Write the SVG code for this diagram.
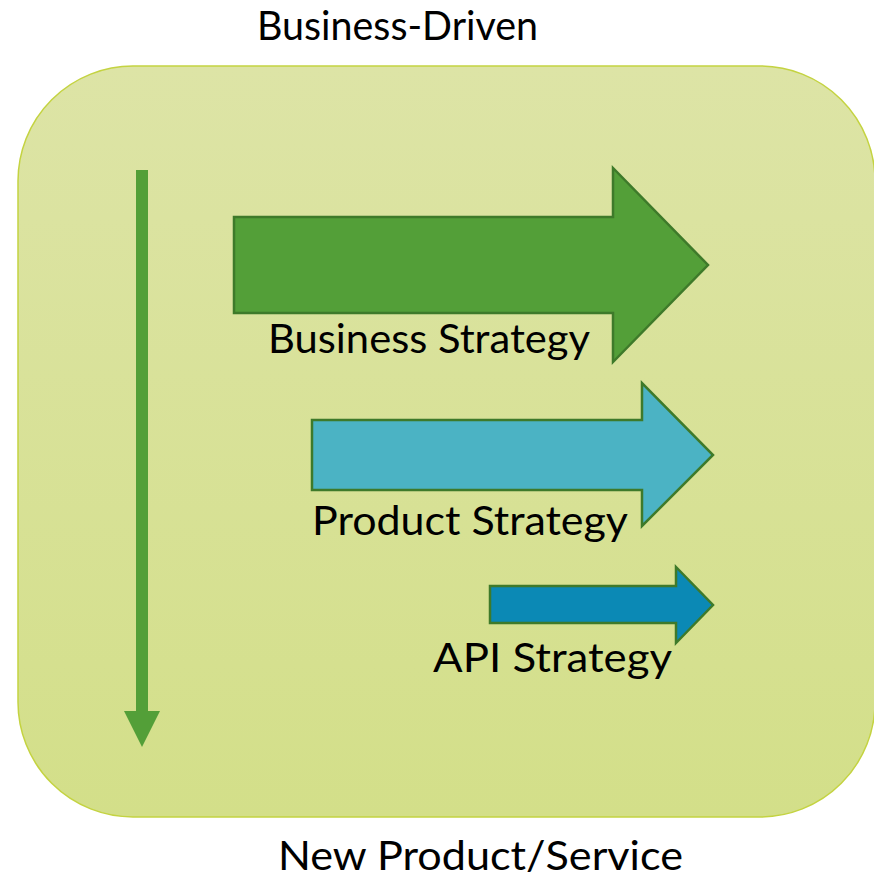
<svg xmlns="http://www.w3.org/2000/svg" width="874" height="878" viewBox="0 0 874 878">
<style>
.lbl{font-family:Lato,"Open Sans","Liberation Sans",sans-serif;font-size:40px;fill:#000}
.arw{stroke:#3e7a2a;stroke-width:2.5;stroke-linejoin:miter}
</style>
<defs>
<linearGradient id="bg" x1="0" y1="0" x2="0" y2="1">
<stop offset="0" stop-color="#dde4a6"/>
<stop offset="1" stop-color="#d3df89"/>
</linearGradient>
</defs>
<rect id="panel" x="18" y="66" width="857" height="751" rx="115" ry="115" fill="url(#bg)" stroke="#c4d341" stroke-width="1.5"/>
<g id="title"><text class="lbl" x="257" y="40" textLength="281" lengthAdjust="spacingAndGlyphs">Business-Driven</text></g>
<g id="bottom-label"><text class="lbl" x="278" y="870" textLength="405" lengthAdjust="spacingAndGlyphs">New Product/Service</text></g>
<g id="connectors">
<rect x="136" y="170" width="12" height="542" fill="#539f38"/>
<polygon points="124,711 160,711 142,747" fill="#539f38"/>
</g>
<g id="business-strategy">
<polygon class="arw" fill="#539f38" points="234,217 613,217 613,168 708,265 613,362 613,313 234,313"/>
<text class="lbl" x="268" y="353" textLength="322" lengthAdjust="spacingAndGlyphs">Business Strategy</text>
</g>
<g id="product-strategy">
<polygon class="arw" fill="#4bb3c4" points="312,420 642,420 642,383 713,455 642,526 642,490 312,490"/>
<text class="lbl" x="312" y="535" textLength="316" lengthAdjust="spacingAndGlyphs">Product Strategy</text>
</g>
<g id="api-strategy">
<polygon class="arw" fill="#0b89b5" points="490,586 676,586 676,567 713,605 676,643 676,623 490,623"/>
<text class="lbl" x="433" y="672" textLength="239" lengthAdjust="spacingAndGlyphs">API Strategy</text>
</g>
</svg>
